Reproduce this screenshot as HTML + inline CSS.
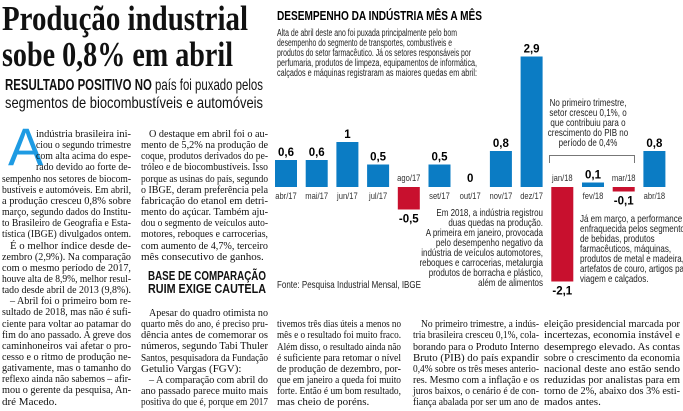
<!DOCTYPE html>
<html><head><meta charset="utf-8">
<style>
html,body{margin:0;padding:0;background:#fff;}
body{width:683px;height:411px;position:relative;overflow:hidden;font-family:"Liberation Serif",serif;color:#111;}
.l{position:absolute;height:12px;line-height:12px;font-size:11px;white-space:nowrap;}
.l span{display:inline-block;transform-origin:0 50%;}
.n{font-family:"Liberation Sans Narrow","Liberation Sans",sans-serif;}
h1{position:absolute;margin:0;left:2px;font-family:"Liberation Serif",serif;font-weight:bold;font-size:35px;line-height:36px;white-space:nowrap;transform-origin:0 50%;}
</style></head><body>
<h1 id="h1a" style="top:1px;">Produção industrial</h1>
<h1 id="h1b" style="top:37px;">sobe 0,8% em abril</h1>
<div class="l n" data-w="258" style="left:5px;top:77px;height:17px;line-height:17px;font-size:16px;"><span><b>RESULTADO POSITIVO NO</b> país foi puxado pelos</span></div>
<div class="l n" data-w="258" style="left:5px;top:95px;height:17px;line-height:17px;font-size:16px;"><span>segmentos de biocombustíveis e automóveis</span></div>
<div style="position:absolute;left:8px;top:121px;font-family:'Liberation Sans',sans-serif;font-size:53px;line-height:53px;color:#1e9be3;">A</div>

<div id="c1"></div>
<div class="l n" data-w="118" style="left:148px;top:270px;height:13px;line-height:13px;font-weight:bold;font-size:12.5px;"><span>BASE DE COMPARAÇÃO</span></div>
<div class="l n" data-w="118" style="left:148px;top:283px;height:13px;line-height:13px;font-weight:bold;font-size:12.5px;"><span>RUIM EXIGE CAUTELA</span></div>

<svg width="683" height="411" style="position:absolute;left:0;top:0;" font-family="Liberation Sans Narrow, Liberation Sans, sans-serif">
<text x="277" y="20" font-size="12.5" font-weight="bold" textLength="205" lengthAdjust="spacingAndGlyphs">DESEMPENHO DA INDÚSTRIA MÊS A MÊS</text>
<g font-size="10" fill="#222">
<text x="277" y="36" textLength="180" lengthAdjust="spacingAndGlyphs">Alta de abril deste ano foi puxada principalmente pelo bom</text>
<text x="277" y="46" textLength="175" lengthAdjust="spacingAndGlyphs">desempenho do segmento de transportes, combustíveis e</text>
<text x="277" y="56" textLength="194" lengthAdjust="spacingAndGlyphs">produtos do setor farmacêutico. Já os setores responsáveis por</text>
<text x="277" y="66" textLength="200" lengthAdjust="spacingAndGlyphs">perfumaria, produtos de limpeza, equipamentos de informática,</text>
<text x="277" y="76" textLength="200" lengthAdjust="spacingAndGlyphs">calçados e máquinas registraram as maiores quedas  em abril:</text>
</g>
<g id="bars"></g>
<g font-size="10" fill="#222" text-anchor="middle">
<text class="c" x="588" y="106">No primeiro trimestre,</text>
<text class="c" x="588" y="116">setor cresceu 0,1%, o</text>
<text class="c" x="588" y="126">que contribuiu para o</text>
<text class="c" x="588" y="136">crescimento do PIB no</text>
<text class="c" x="588" y="146">período de 0,4%</text>
</g>
<path d="M549.5 163 V155.5 H634.5 V163" fill="none" stroke="#777" stroke-width="1"/>
<g font-size="10" fill="#222" text-anchor="end">
<text class="c" x="543" y="216">Em 2018, a indústria registrou</text>
<text class="c" x="543" y="226">duas quedas na produção.</text>
<text class="c" x="543" y="236">A primeira em janeiro, provocada</text>
<text class="c" x="543" y="246">pelo desempenho negativo da</text>
<text class="c" x="543" y="256">indústria de veículos automotores,</text>
<text class="c" x="543" y="266">reboques e carrocerias, metalurgia</text>
<text class="c" x="543" y="276">produtos de borracha e plástico,</text>
<text class="c" x="543" y="286">além de alimentos</text>
</g>
<g font-size="10" fill="#222">
<text class="c" x="580" y="222">Já em março, a performance foi</text>
<text class="c" x="580" y="232">enfraquecida pelos segmentos</text>
<text class="c" x="580" y="242">de bebidas, produtos</text>
<text class="c" x="580" y="252">farmacêuticos, máquinas,</text>
<text class="c" x="580" y="262">produtos de metal e madeira,</text>
<text class="c" x="580" y="272">artefatos de couro, artigos para</text>
<text class="c" x="580" y="282">viagem e calçados.</text>
</g>
<text class="c" x="277" y="288" font-size="10" fill="#222">Fonte: Pesquisa Industrial Mensal, IBGE</text>
</svg>

<script>
function fitH(id,W){var e=document.getElementById(id);var w=e.getBoundingClientRect().width;e.style.transform='scaleX('+(W/w)+')';}
fitH('h1a',246);fitH('h1b',231);
var cols=[
 {x:36,w:95,y:128,lines:["indústria brasileira ini-","ciou o segundo trimestre","com alta acima do espe-","rado devido ao forte de-"]},
 {x:2,w:129,y:128+4*11.15,lines:["sempenho nos setores de biocom-","bustíveis e automóveis. Em abril,","a produção cresceu 0,8% sobre","março, segundo dados do Institu-","to Brasileiro de Geografia e Esta-","tística (IBGE) divulgados ontem.|","  É o melhor índice desde de-","zembro (2,9%). Na comparação","com o mesmo período de 2017,","houve alta de 8,9%, melhor resul-","tado desde abril de 2013 (9,8%).|","  – Abril foi o primeiro bom re-","sultado de 2018, mas não é sufi-","ciente para voltar ao patamar do","fim do ano passado. A greve dos","caminhoneiros vai afetar o pro-","cesso e o ritmo de produção ne-","gativamente, mas o tamanho do","reflexo ainda não sabemos – afir-","mou o gerente da pesquisa, An-","dré Macedo.|"]},
 {x:141,w:127,y:128,lines:["  O destaque em abril foi o au-","mento de 5,2% na produção de","coque, produtos derivados do pe-","tróleo e de biocombustíveis. Isso","porque as usinas do país, segundo","o IBGE, deram preferência pela","fabricação do etanol em detri-","mento do açúcar. Também aju-","dou o segmento de veículos auto-","motores, reboques e carrocerias,","com aumento de 4,7%, terceiro","mês consecutivo de ganhos.|"]},
 {x:141,w:127,y:307,lines:["  Apesar do quadro otimista no","quarto mês do ano, é preciso pru-","dência antes de comemorar os","números, segundo Tabi Thuler","Santos, pesquisadora da Fundação","Getulio Vargas (FGV):|","  – A comparação com abril do","ano passado parece muito mais","positiva do que é, porque em 2017"]},
 {x:277,w:124,y:318.2,lines:["tivemos três dias úteis a menos no","mês e o resultado foi muito fraco.","Além disso, o resultado ainda não","é suficiente para retomar o nível","de produção de dezembro, por-","que em janeiro a queda foi muito","forte. Então é um bom resultado,","mas cheio de poréns.|"]},
 {x:413,w:126,y:318.2,lines:["  No primeiro trimestre, a indús-","tria brasileira cresceu 0,1%, cola-","borando para o Produto Interno","Bruto (PIB) do país expandir","0,4% sobre os três meses anterio-","res. Mesmo com a inflação e os","juros baixos, o cenário é de con-","fiança abalada por ser um ano de"]},
 {x:544,w:136,y:318.2,lines:["eleição presidencial marcada por","incertezas, economia instável e","desemprego elevado. As contas","sobre o crescimento da economia","nacional deste ano estão sendo","reduzidas por analistas para em","torno de 2%, abaixo dos 3% esti-","mados antes.|"]}
];
var c=document.getElementById('c1');
cols.forEach(function(col){
 col.lines.forEach(function(t,i){
  var end=t.slice(-1)=='|'; if(end)t=t.slice(0,-1);
  var ind=0; if(t.indexOf('  ')==0){ind=8;t=t.slice(2);}
  var d=document.createElement('div');d.className='l';
  d.style.left=(col.x+ind)+'px';d.style.top=(col.y+i*11.15)+'px';
  var s=document.createElement('span');s.textContent=t;d.appendChild(s);c.appendChild(d);
  d._w=col.w-ind;d._e=end;
 });
});
document.querySelectorAll('.l').forEach(function(d){
 var W=d._w||+d.getAttribute('data-w');var s=d.firstChild;var w=s.getBoundingClientRect().width;
 if(w>W){s.style.transform='scaleX('+(W/w)+')';}
 else if(!d._e&&d._w){var n=(s.textContent.match(/ /g)||[]).length;if(n)s.style.wordSpacing=((W-w)/n)+'px';}
});
var vals=[0.6,0.6,1,0.5,-0.5,0.5,0,0.8,2.9,-2.1,0.1,-0.1,0.8];
var labs=["abr/17","mai/17","jun/17","jul/17","ago/17","set/17","out/17","nov/17","dez/17","jan/18","fev/18","mar/18","abr/18"];
var g=document.getElementById('bars'),h='',B=187,S=45;
vals.forEach(function(v,i){
 var x=275+30.7*i,cx=x+11,hh=Math.abs(v)*S;
 var vs=String(v).replace('.',',');
 var lab=function(y){return '<text class="c" x="'+cx+'" y="'+y+'" font-size="9.5" fill="#333" text-anchor="middle">'+labs[i]+'</text>';};
 var val=function(y){return '<text x="'+cx+'" y="'+y+'" font-size="11.5" font-weight="bold" text-anchor="middle">'+vs+'</text>';};
 if(v>0){h+='<rect x="'+x+'" y="'+(B-hh)+'" width="22" height="'+hh+'" fill="#0b7cc4"/>'+val(B-hh-4)+lab(B+12);}
 else if(v<0){h+='<rect x="'+x+'" y="'+B+'" width="22" height="'+hh+'" fill="#c8102e"/>'+val(B+hh+13)+lab(B-6);}
 else{h+=val(B-5)+lab(B+12);}
});
g.innerHTML=h;
document.querySelectorAll('text.c').forEach(function(t){var x=+t.getAttribute('x');t.setAttribute('transform','translate('+x+',0) scale(0.8,1) translate('+(-x)+',0)');});
</script>
</body></html>
